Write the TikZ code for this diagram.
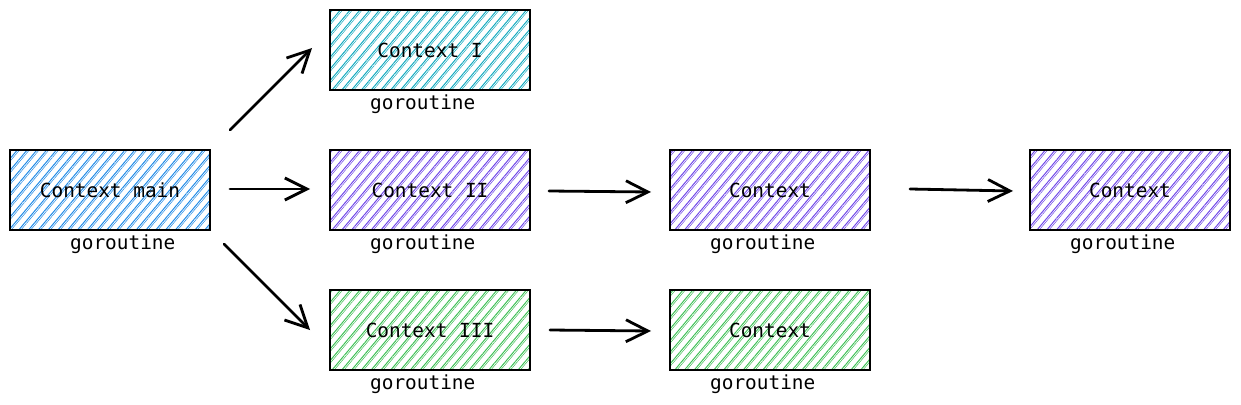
\documentclass[tikz,border=0pt]{standalone}
\usepackage{fontspec}
\setmonofont{DejaVu Sans Mono}
\usetikzlibrary{arrows.meta,patterns.meta}
\definecolor{cblue}{HTML}{228BE6}
\definecolor{ccyan}{HTML}{15AABF}
\definecolor{cpurple}{HTML}{7048E8}
\definecolor{cgreen}{HTML}{40C057}
\tikzset{
  ctxbox/.style={draw=black, line width=2.8pt, minimum width=200pt, minimum height=80pt, inner sep=0pt,
    pattern={Lines[angle=50,distance=7.5pt,line width=1pt]}, pattern color=#1,
    preaction={pattern={Lines[angle=50,distance=7.5pt,line width=0.5pt,xshift=2.2pt]}, pattern color=#1}},
  ctxtext/.style={anchor=base, inner sep=0pt, font=\ttfamily\fontsize{19.4}{22}\selectfont},
  gorlabel/.style={anchor=base west, inner sep=0pt, font=\ttfamily\fontsize{19.4}{22}\selectfont},
  conn/.style={line width=2.8pt, line cap=round, -{Straight Barb[length=22pt,width=22pt,line width=2.8pt]}}
}
\begin{document}
\begin{tikzpicture}[x=1pt,y=-1pt]
\useasboundingbox (0,0) rectangle (1241,404);
% boxes
\node[ctxbox=cblue] (main) at (110,190) {};
\node[ctxbox=ccyan] (c1) at (430,50) {};
\node[ctxbox=cpurple] (c2) at (430,190) {};
\node[ctxbox=cgreen] (c3) at (430,330) {};
\node[ctxbox=cpurple] (c2a) at (770,190) {};
\node[ctxbox=cpurple] (c2b) at (1130,190) {};
\node[ctxbox=cgreen] (c3a) at (770,330) {};
% box texts
\node[ctxtext] (tmain) at (110,197.5) {Context main};
\node[ctxtext] (t1) at (430,57.5) {Context I};
\node[ctxtext] (t2) at (430,197.5) {Context II};
\node[ctxtext] (t3) at (430,337.5) {Context III};
\node[ctxtext] (t2a) at (770,197.5) {Context};
\node[ctxtext] (t2b) at (1130,197.5) {Context};
\node[ctxtext] (t3a) at (770,337.5) {Context};
% goroutine labels
\node[gorlabel] (gmain) at (70,249) {goroutine};
\node[gorlabel] (g1) at (370,109) {goroutine};
\node[gorlabel] (g2) at (370,249) {goroutine};
\node[gorlabel] (g3) at (370,389) {goroutine};
\node[gorlabel] (g2a) at (710,249) {goroutine};
\node[gorlabel] (g2b) at (1070,249) {goroutine};
\node[gorlabel] (g3a) at (710,389) {goroutine};
% connector end points
\coordinate (a1s) at (230,130);
\coordinate (a1e) at (312,48);
\coordinate (a2s) at (230,189);
\coordinate (a2e) at (310,189);
\coordinate (a3s) at (224,244);
\coordinate (a3e) at (310,330);
\coordinate (a4s) at (549,191);
\coordinate (a4e) at (651,192);
\coordinate (a5s) at (910,189);
\coordinate (a5e) at (1013,191);
\coordinate (a6s) at (550,330);
\coordinate (a6e) at (651,331);
\draw[conn] (a1s) -- (a1e);
\draw[conn] (a2s) -- (a2e);
\draw[conn] (a3s) -- (a3e);
\draw[conn] (a4s) -- (a4e);
\draw[conn] (a5s) -- (a5e);
\draw[conn] (a6s) -- (a6e);
\end{tikzpicture}
\end{document}
